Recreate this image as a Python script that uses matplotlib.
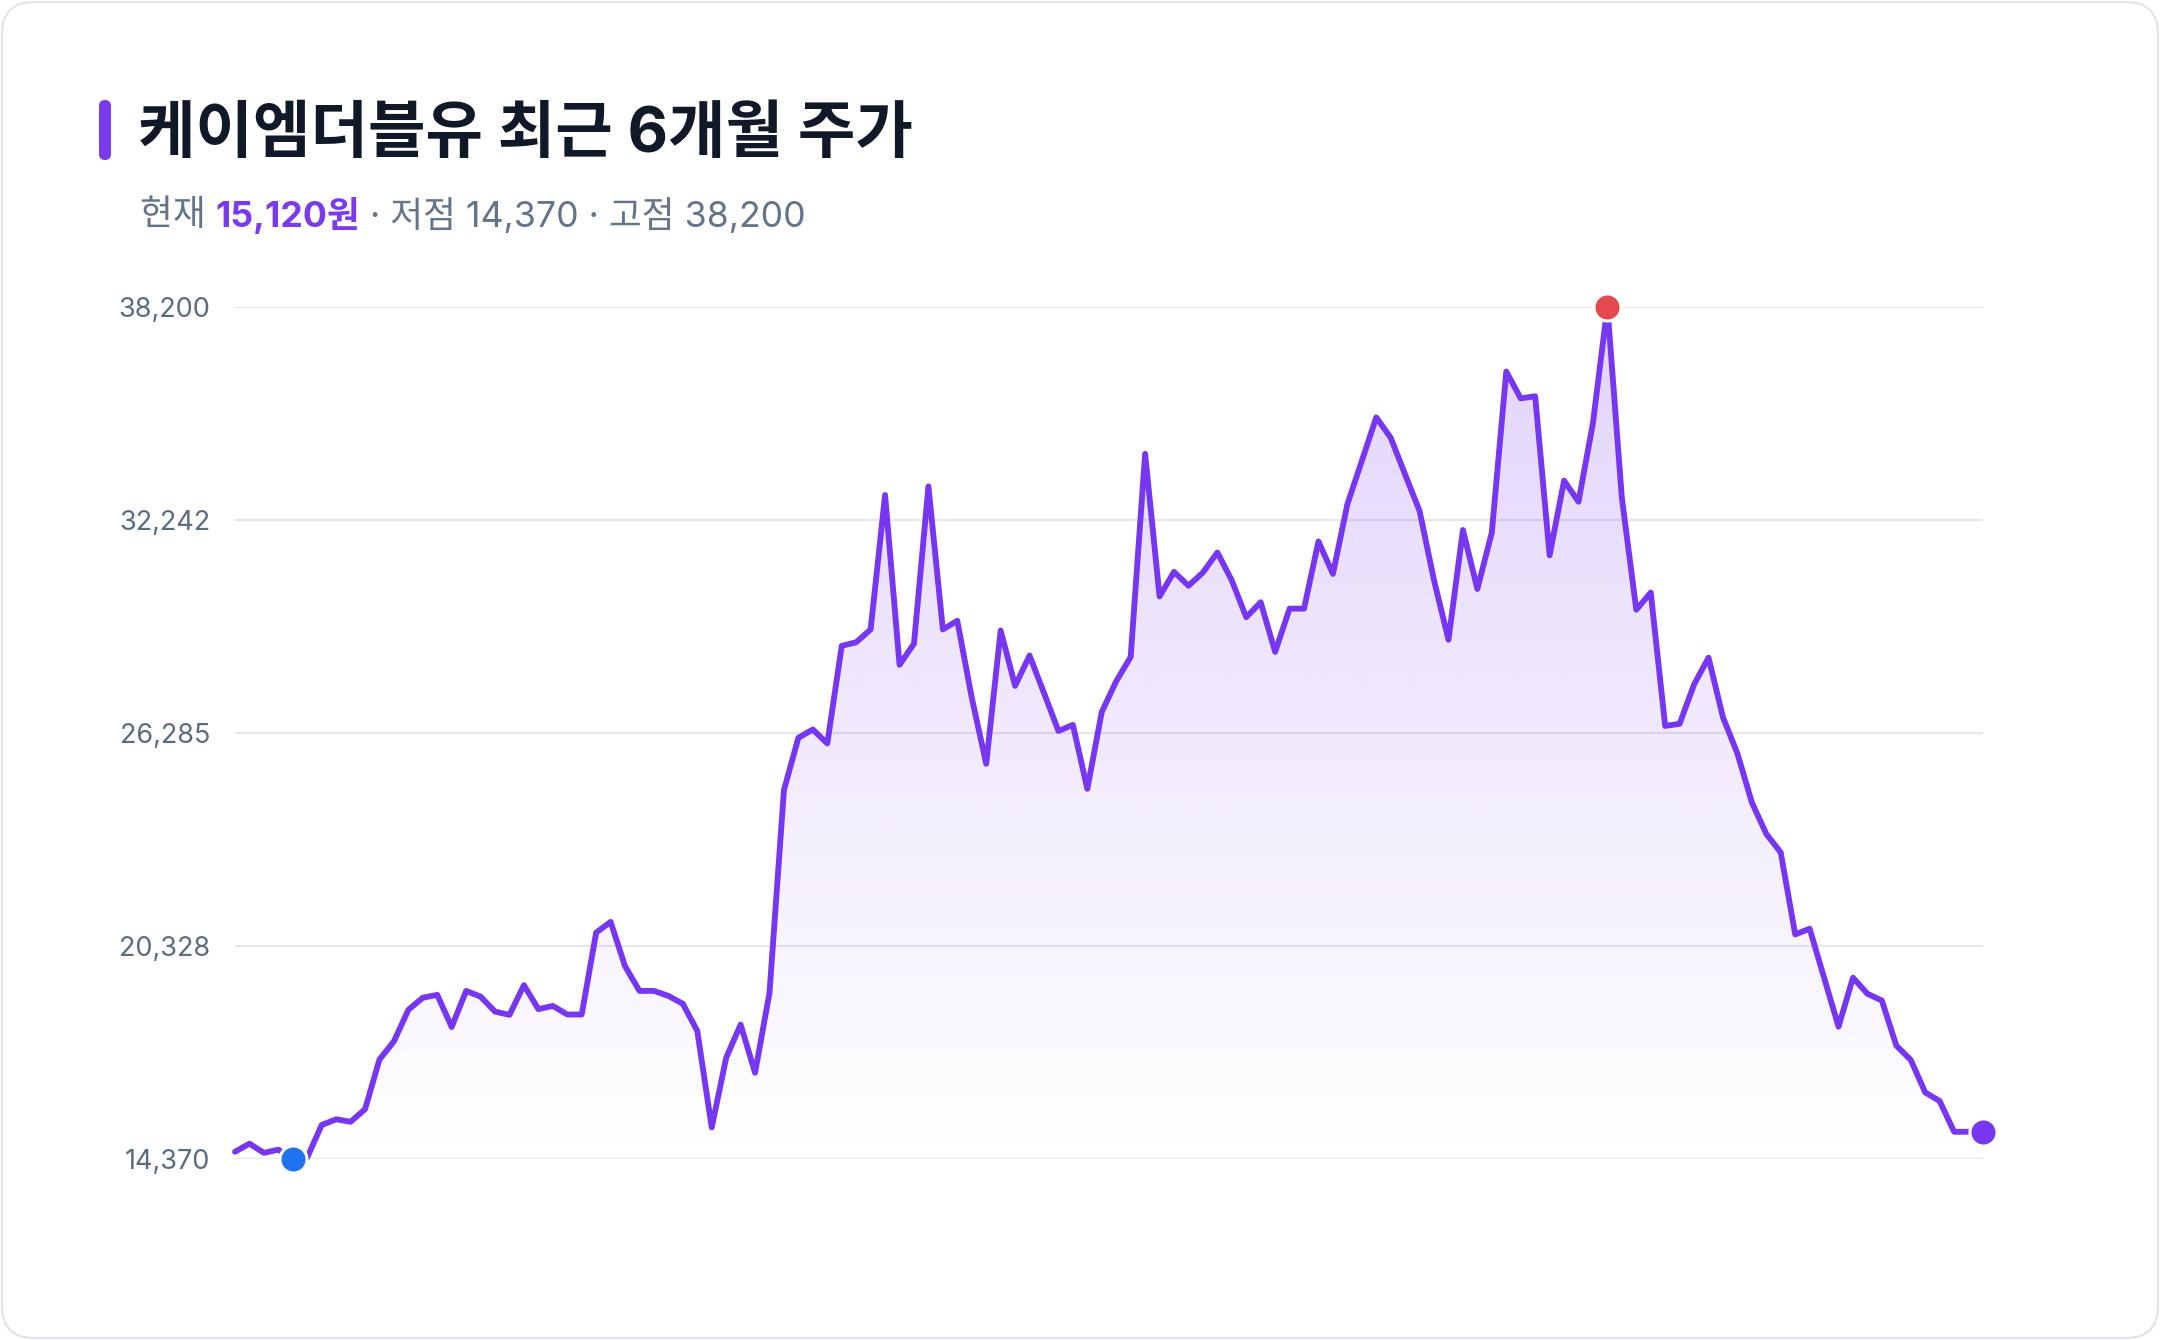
import matplotlib
matplotlib.use("Agg")
import matplotlib.pyplot as plt
from matplotlib.patches import FancyBboxPatch
import numpy as np

# Inter for latin/digits, Noto Sans CJK KR for hangul (Pretendard-like mix)
plt.rcParams['font.family'] = ['Inter', 'Noto Sans CJK KR', 'DejaVu Sans']

# 케이엠더블유 종가 (최근 6개월, 거래일 기준)
close = [14560, 14790, 14530, 14620, 14370, 14400, 15310, 15470, 15400, 15750,
         17140, 17650, 18530, 18870, 18950, 18050, 19060, 18900, 18480, 18390,
         19220, 18550, 18640, 18400, 18400, 20690, 20990, 19750, 19060, 19060,
         18920, 18700, 17940, 15240, 17190, 18120, 16770, 19010, 24680, 26140,
         26370, 25980, 28710, 28810, 29170, 32930, 28180, 28770, 33170, 29170,
         29410, 27260, 25410, 29140, 27590, 28440, 27390, 26330, 26500, 24710,
         26860, 27720, 28400, 34080, 30090, 30780, 30390, 30760, 31320, 30540,
         29510, 29930, 28540, 29750, 29750, 31630, 30720, 32670, 33880, 35100,
         34530, 33500, 32480, 30540, 28880, 31950, 30300, 31880, 36380, 35630,
         35690, 31240, 33330, 32740, 34940, 38200, 32850, 29720, 30200, 26470,
         26530, 27630, 28380, 26710, 25700, 24330, 23450, 22930, 20640, 20800,
         19430, 18060, 19430, 18980, 18790, 17530, 17130, 16220, 15980, 15120,
         15120, 15120]

low_idx, low_val = 4, 14370
high_idx, high_val = 95, 38200
cur_val = 15120

ytick_vals = [14370, 20328, 26285, 32242, 38200]
ytick_labels = ["14,370", "20,328", "26,285", "32,242", "38,200"]

title = "케이엠더블유 최근 6개월 주가"
sub_parts = [("현재 ", "#64748b", "normal"),
             ("15,120원", "#7c3aed", "bold"),
             (" · 저점 14,370 · 고점 38,200", "#64748b", "normal")]

PURPLE = "#7636f2"
W, H = 2160, 1340

fig = plt.figure(figsize=(W / 100, H / 100), dpi=100)
fig.patch.set_facecolor("white")

# background / card layer in pixel coordinates
bg = fig.add_axes([0, 0, 1, 1])
bg.set_xlim(0, W)
bg.set_ylim(H, 0)
bg.axis("off")
bg.add_patch(FancyBboxPatch((2, 2), W - 4, H - 4,
                            boxstyle="round,pad=0,rounding_size=32",
                            fc="white", ec="#e4e4ea", lw=1.6))
bg.add_patch(FancyBboxPatch((99, 100), 12, 60,
                            boxstyle="round,pad=0,rounding_size=6",
                            fc="#7c3aed", ec="none"))

bg.text(138, 135, title, fontsize=45, fontweight="bold", color="#111827",
        ha="left", va="center")

renderer = fig.canvas.get_renderer()
x0 = 140
for s, c, w in sub_parts:
    t = bg.text(x0, 216, s, fontsize=25.7, fontweight=w, color=c,
                ha="left", va="center")
    x0 += t.get_window_extent(renderer).width

# chart area
left, right = 235, 1983
top, bottom = 306.5, 1158.6
ax = fig.add_axes([left / W, 1 - bottom / H, (right - left) / W, (bottom - top) / H])
ax.patch.set_alpha(0)
x = np.arange(len(close))
ymin, ymax = ytick_vals[0], ytick_vals[-1]

for v in ytick_vals:
    ax.axhline(v, color="#e6e6ec", lw=1.5, zorder=1)

poly = ax.fill_between(x, close, ymin, facecolor="none", edgecolor="none")
grad = np.zeros((256, 1, 4))
rgb = matplotlib.colors.to_rgb("#7c3aed")
grad[:, 0, 0], grad[:, 0, 1], grad[:, 0, 2] = rgb
grad[:, 0, 3] = np.linspace(0.0, 0.22, 256)
im = ax.imshow(grad, extent=[0, len(close) - 1, ymin, ymax], aspect="auto",
               origin="lower", zorder=2, interpolation="bilinear")
im.set_clip_path(poly.get_paths()[0], transform=ax.transData)

ax.plot(x, close, color=PURPLE, lw=4.2, solid_joinstyle="round",
        solid_capstyle="round", zorder=3, clip_on=False)

ax.plot([low_idx], [low_val], "o", ms=19.5, mfc="#1f73ef", mec="white", mew=2.2,
        zorder=5, clip_on=False)
ax.plot([high_idx], [high_val], "o", ms=19.5, mfc="#e5484d", mec="white", mew=2.2,
        zorder=5, clip_on=False)
ax.plot([len(close) - 1], [cur_val], "o", ms=19.5, mfc=PURPLE, mec="white", mew=2.2,
        zorder=5, clip_on=False)

ax.set_xlim(0, len(close) - 1)
ax.set_ylim(ymin, ymax)
ax.set_xticks([])
ax.set_yticks(ytick_vals)
ax.set_yticklabels(ytick_labels)
ax.tick_params(axis="y", length=0, pad=18, labelsize=19.5, labelcolor="#5b6b82")
for s in ax.spines.values():
    s.set_visible(False)

fig.savefig("out.png", dpi=100, facecolor="white")
